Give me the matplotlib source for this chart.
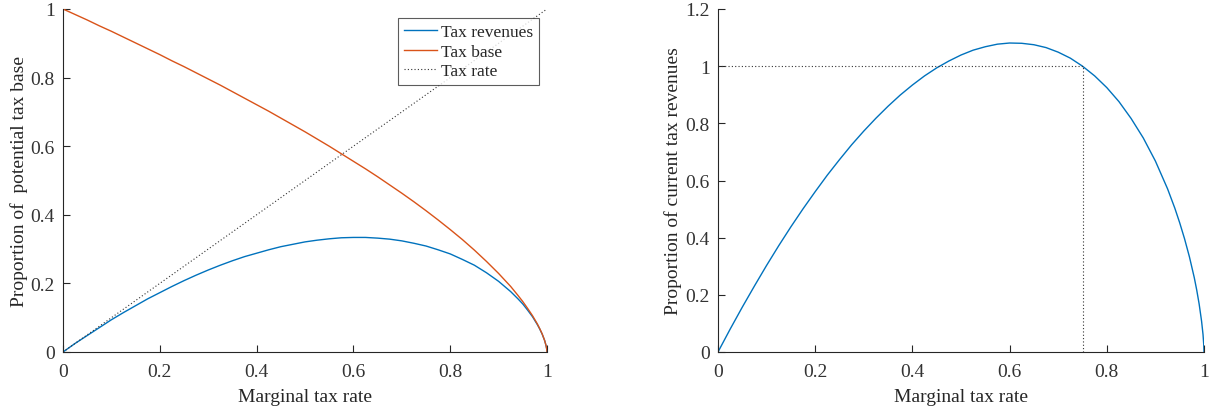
import numpy as np
import matplotlib
matplotlib.use("Agg")
import matplotlib.pyplot as plt

# marginal tax rate
rate = [0, 0.025, 0.05, 0.075, 0.1, 0.125, 0.15, 0.175, 0.2, 0.225, 0.25, 0.275,
        0.3, 0.325, 0.35, 0.375, 0.4, 0.425, 0.45, 0.475, 0.5, 0.525, 0.55,
        0.575, 0.6, 0.625, 0.65, 0.675, 0.7, 0.725, 0.75, 0.775, 0.8, 0.825,
        0.85, 0.875, 0.9, 0.925, 0.94, 0.95, 0.96, 0.97, 0.98, 0.985, 0.99,
        0.995, 0.998, 0.9995, 1]
tax_base = [1, 0.984, 0.968, 0.951, 0.935, 0.918, 0.901, 0.884, 0.867, 0.849,
            0.832, 0.814, 0.796, 0.778, 0.759, 0.740, 0.721, 0.702, 0.682,
            0.662, 0.642, 0.621, 0.600, 0.578, 0.556, 0.534, 0.511, 0.487,
            0.463, 0.438, 0.412, 0.385, 0.357, 0.328, 0.297, 0.264, 0.229,
            0.191, 0.165, 0.147, 0.127, 0.106, 0.082, 0.068, 0.053, 0.034,
            0.019, 0.008, 0]
tax_rev = [0, 0.025, 0.048, 0.071, 0.094, 0.115, 0.135, 0.155, 0.173, 0.191,
           0.208, 0.224, 0.239, 0.253, 0.266, 0.278, 0.288, 0.298, 0.307,
           0.314, 0.321, 0.326, 0.330, 0.333, 0.334, 0.334, 0.332, 0.329,
           0.324, 0.317, 0.309, 0.298, 0.286, 0.270, 0.253, 0.231, 0.206,
           0.176, 0.155, 0.140, 0.122, 0.103, 0.080, 0.067, 0.052, 0.034,
           0.019, 0.008, 0]
rev_rel = [0, 0.080, 0.157, 0.231, 0.303, 0.372, 0.438, 0.501, 0.561, 0.619,
           0.673, 0.725, 0.773, 0.818, 0.860, 0.899, 0.934, 0.966, 0.994,
           1.018, 1.039, 1.056, 1.068, 1.077, 1.081, 1.080, 1.075, 1.065,
           1.049, 1.028, 1.000, 0.966, 0.925, 0.876, 0.817, 0.749, 0.668,
           0.571, 0.503, 0.452, 0.396, 0.333, 0.260, 0.217, 0.168, 0.108,
           0.061, 0.025, 0]
current_rate = 0.75

blue = "#0072BD"
orange = "#D95319"
txt = "#262626"

plt.rcParams['font.family'] = ['Liberation Serif', 'DejaVu Serif']
plt.rcParams['font.size'] = 13

fig = plt.figure(figsize=(12.15, 4.14), dpi=100)
ax1 = fig.add_axes([63/1215, 1-353/414, 484/1215, 343/414])
ax2 = fig.add_axes([718/1215, 1-353/414, 486/1215, 343/414])

def style(ax):
    for s in ["top", "right"]:
        ax.spines[s].set_visible(False)
    for s in ["left", "bottom"]:
        ax.spines[s].set_color(txt)
        ax.spines[s].set_linewidth(0.8)
    ax.tick_params(direction="in", length=5, width=0.8, colors=txt,
                   labelsize=14, labelcolor="#333333")
    ax.tick_params(axis="x", pad=8)
    ax.tick_params(axis="y", pad=6)
    ax.set_xlim(0, 1)
    ax.set_xticks([0, 0.2, 0.4, 0.6, 0.8, 1])
    ax.set_xticklabels(["0", "0.2", "0.4", "0.6", "0.8", "1"])

ax1.plot(rate, tax_rev, color=blue, lw=1.0, label="Tax revenues")
ax1.plot(rate, tax_base, color=orange, lw=1.0, label="Tax base")
ax1.plot([0, 1], [0, 1], color="#333333", lw=0.8, ls=(0, (1, 2)), label="Tax rate")
style(ax1)
ax1.set_ylim(0, 1)
ax1.set_yticks([0, 0.2, 0.4, 0.6, 0.8, 1])
ax1.set_yticklabels(["0", "0.2", "0.4", "0.6", "0.8", "1"])
ax1.set_xlabel("Marginal tax rate", color=txt, fontsize=14, labelpad=6)
ax1.set_ylabel("Proportion of  potential tax base", color=txt, fontsize=14, labelpad=2)
leg = ax1.legend(loc="upper right", bbox_to_anchor=(0.983, 0.974), fontsize=12.5,
                 frameon=True, fancybox=False, edgecolor="#333333",
                 handlelength=1.9, handletextpad=0.2, borderpad=0.35,
                 labelspacing=0.2, borderaxespad=0)
leg.get_frame().set_linewidth(0.8)
for t in leg.get_texts():
    t.set_color(txt)

ax2.plot(rate, rev_rel, color=blue, lw=1.0)
ax2.plot([0, current_rate], [1, 1], color="#333333", lw=0.8, ls=(0, (1, 2)))
ax2.plot([current_rate, current_rate], [0, 1], color="#333333", lw=0.8, ls=(0, (1, 2)))
style(ax2)
ax2.set_ylim(0, 1.2)
ax2.set_yticks([0, 0.2, 0.4, 0.6, 0.8, 1, 1.2])
ax2.set_yticklabels(["0", "0.2", "0.4", "0.6", "0.8", "1", "1.2"])
ax2.set_xlabel("Marginal tax rate", color=txt, fontsize=14, labelpad=6)
ax2.set_ylabel("Proportion of current tax revenues", color=txt, fontsize=14, labelpad=2)

fig.savefig("out.png", dpi=100)
